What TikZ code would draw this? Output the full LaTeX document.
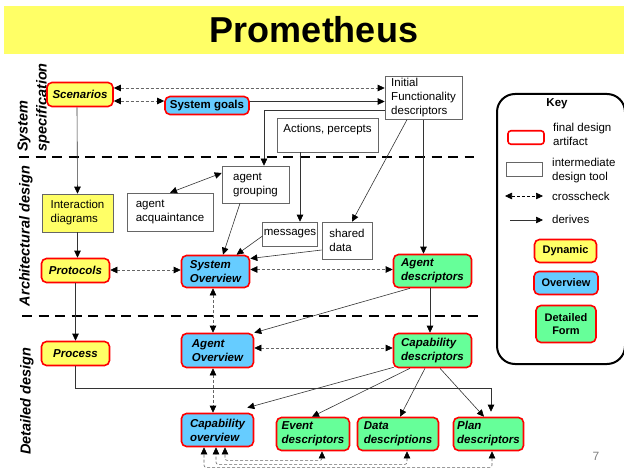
\documentclass[tikz,border=0pt]{standalone}
\usepackage{fontspec}
\setmainfont{Liberation Sans}
\usetikzlibrary{arrows.meta,calc}
\definecolor{dynY}{HTML}{FFFF66}
\definecolor{ovB}{HTML}{66CCFF}
\definecolor{detG}{HTML}{66FF99}
\newcommand\nsz{\fontsize{11.5}{14}\selectfont}

\begin{document}
\begin{tikzpicture}[x=1pt,y=-1pt,
  art/.style={draw=red, line width=1.6pt, rounded corners=5pt, inner sep=2pt,
              align=left, font=\nsz\bfseries\itshape},
  dyn/.style={art, fill=dynY},
  ovw/.style={art, fill=ovB},
  detl/.style={art, fill=detG},
  keyart/.style={art, align=center, font=\fontsize{11}{13}\selectfont\bfseries},
  tool/.style={draw=black!60, line width=0.6pt, fill=white, inner sep=2pt,
               align=left, font=\nsz},
  derive/.style={draw=black!80, line width=0.6pt,
                 -{Triangle[length=7pt,width=6.5pt,color=black]}},
  derivetwo/.style={draw=black!80, line width=0.6pt,
                 {Triangle[length=7pt,width=6.5pt,color=black]}-{Triangle[length=7pt,width=6.5pt,color=black]}},
  xcheck/.style={draw=black!60, line width=0.6pt, dash pattern=on 3pt off 2pt,
                 {Triangle[length=7pt,width=6.5pt,color=black]}-{Triangle[length=7pt,width=6.5pt,color=black]}},
  sect/.style={font=\fontsize{14.5}{16}\selectfont\bfseries\itshape, rotate=90, inner sep=0pt},
  sepline/.style={line width=2.4pt, dash pattern=on 10pt off 6.5pt},
  keytxt/.style={font=\nsz, align=left, anchor=west, inner sep=0pt}]

\useasboundingbox (0,0) rectangle (624,468);

% title band
\node[fill=dynY, minimum width=620, minimum height=48, inner sep=0pt,
      font=\fontsize{36}{40}\selectfont\bfseries] (title) at (314,30) {Prometheus};

% phase labels and separators
\node[sect, anchor=west] (lsys) at (24,152) {System};
\node[sect, anchor=west] (lspec) at (43,152) {specification};
\node[sect] (larch) at (26,236) {Architectural design};
\node[sect] (ldet) at (27,401) {Detailed design};
\draw[sepline] (19,157) -- (474,157);
\draw[sepline] (22,316) -- (480,316);

% system specification
\node[dyn, minimum width=66, minimum height=24] (scen) at (80,94.5) {Scenarios};
\node[ovw, font=\nsz\bfseries, minimum width=84, minimum height=18] (goals) at (207,105.5) {System goals};
\node[tool, minimum width=77, minimum height=42] (ifd) at (423.5,98) {Initial\\Functionality\\descriptors};
\node[tool, minimum width=101, minimum height=34, text depth=14pt, inner ysep=5.5pt] (acts) at (327.5,135) {Actions, percepts};

% architectural design
\node[tool, minimum width=67, minimum height=37] (grp) at (255.5,184.5) {agent\\grouping};
\node[tool, minimum width=86, minimum height=38] (acq) at (170,212) {agent\\acquaintance};
\node[tool, fill=dynY, minimum width=71, minimum height=38] (inter) at (77.5,213) {Interaction\\diagrams};
\node[tool, inner xsep=1pt, minimum width=54, minimum height=24] (msgs) at (290,234) {messages};
\node[tool, minimum width=50, minimum height=37] (shared) at (347,240.5) {shared\\data};
\node[dyn, minimum width=68, minimum height=24] (prot) at (75.5,270.5) {Protocols};
\node[ovw, minimum width=68, minimum height=32] (sysov) at (215.5,271.5) {System\\Overview};
\node[detl, minimum width=78, minimum height=33] (agdesc) at (432.5,271) {Agent\\descriptors};

% detailed design
\node[dyn, minimum width=68, minimum height=24] (proc) at (75.5,353.5) {Process};
\node[ovw, minimum width=72, minimum height=34] (agov) at (217.5,350.5) {Agent\\Overview};
\node[detl, minimum width=78, minimum height=34] (capdesc) at (432.5,350.5) {Capability\\descriptors};
\node[ovw, minimum width=72, minimum height=33] (capov) at (217.5,430) {Capability\\overview};
\node[detl, minimum width=73, minimum height=33] (event) at (313,434) {Event\\descriptors};
\node[detl, minimum width=81, minimum height=33] (data) at (398,434) {Data\\descriptions};
\node[detl, minimum width=70, minimum height=33] (plan) at (488.5,434) {Plan\\descriptors};

% connectors
\draw[xcheck] ($(scen.east)+(0,-6.5)$) -- ($(ifd.west)+(0,-10)$);
\draw[xcheck] ($(scen.east)+(0,6.5)$) -- ($(goals.west)+(0,-4.5)$);
\draw[derive] ($(goals.east)+(0,-4)$) -- ($(ifd.west)+(0,3.5)$);
\draw[derive] ($(ifd.west)+(0,12)$) -| ($(grp.north)+(8.5,0)$);
\draw[derive] ($(ifd.south)+(-16.5,0)$) -- ($(shared.north)+(5,0)$);
\draw[derive] (ifd.south) -- ($(agdesc.north)+(-9,0)$);
\draw[derive] ($(acts.south)+(-27.5,0)$) -- ($(msgs.north)+(10,0)$);
\draw[derivetwo] ($(grp.west)+(0,-11.5)$) -- (acq.north);
\draw[derive] ($(grp.south)+(-15.5,0)$) -- ($(sysov.north)+(7.5,0)$);
\draw[derive] ($(msgs.west)+(0,2)$) -- ($(sysov.north)+(21,0)$);
\draw[derive] ($(shared.west)+(0,9.5)$) -- ($(sysov.east)+(0,-13)$);
\draw[xcheck] ($(prot.east)+(0,-0.5)$) -- ($(sysov.west)+(0,-1.5)$);
\draw[xcheck] ($(sysov.east)+(0,-2)$) -- ($(agdesc.west)+(0,-1.5)$);
\draw[derive] ($(scen.south)+(-3,0)$) -- (inter.north);
\draw[derive] (inter.south) -- ($(prot.north)+(2,0)$);
\draw[derive] (prot.south) -- (proc.north);
\draw[xcheck] ($(sysov.south)+(-2.5,0)$) -- ($(agov.north)+(-4.5,0)$);
\draw[derive] ($(agdesc.south)+(-22.5,0)$) -- (agov.north east);
\draw[derive] ($(agdesc.south)+(-2.5,0)$) -- ($(capdesc.north)+(-2.5,0)$);
\draw[xcheck] ($(agov.east)+(0,-2.5)$) -- ($(capdesc.west)+(0,-2.5)$);
\draw[xcheck] ($(agov.south)+(-4.5,0)$) -- ($(capov.north)+(-4.5,0)$);
\draw[derive] (proc.south) |- ($(plan.north)+(2.5,-28)$) -- ($(plan.north)+(2.5,-5)$);
\draw[derive] ($(capdesc.south west)+(1,-1)$) -- ($(capov.north east)+(-7,-5)$);
\draw[derive] ($(capdesc.south)+(-22.5,0)$) -- ($(event.north)+(-1,0)$);
\draw[derive] ($(capdesc.south)+(-7.5,0)$) -- ($(data.north)+(2,0)$);
\draw[derive] ($(capdesc.south)+(7.5,0)$) -- ($(plan.north)+(-4.5,0)$);
\draw[xcheck, rounded corners=2pt] ($(event.south)+(9,0)$) -- ($(event.south)+(9,9)$) -| ($(capov.south)+(7.5,0)$);
\draw[xcheck, rounded corners=2pt] ($(data.south)+(9,0)$) -- ($(data.south)+(9,13)$) -| ($(capov.south)+(-1.5,0)$);
\draw[xcheck, rounded corners=2pt] ($(plan.south)+(3.5,0)$) -- ($(plan.south)+(3.5,16)$) -| ($(capov.south)+(-13.5,0)$);

% key
\node[draw, line width=2pt, rounded corners=18pt, minimum width=128, minimum height=270] (keybox) at (561,229) {};
\node[font=\nsz\bfseries] (keyttl) at (557,104) {Key};
\node[draw=red, line width=1.6pt, rounded corners=3pt, minimum width=36, minimum height=13.5] (kart) at (526,137.5) {};
\node[keytxt] (kartt) at (553,134) {final design\\artifact};
\node[draw=black!60, line width=0.6pt, minimum width=36, minimum height=14] (ktool) at (524,169) {};
\node[keytxt] (ktoolt) at (552,171) {intermediate\\design tool};
\coordinate (kxa) at (505,196);
\coordinate (kxb) at (543,196);
\draw[xcheck, draw=black] (kxa) -- (kxb);
\node[keytxt] (kxt) at (552,196) {crosscheck};
\coordinate (kda) at (510,220);
\coordinate (kdb) at (543,220);
\draw[derive] (kda) -- (kdb);
\node[keytxt] (kdt) at (552,219) {derives};
\node[keyart, fill=dynY, minimum width=62, minimum height=23] (kdyn) at (565.5,251) {Dynamic};
\node[keyart, fill=ovB, minimum width=64, minimum height=23] (kov) at (566,283) {Overview};
\node[keyart, fill=detG, minimum width=60, minimum height=37] (kdet) at (566,324) {Detailed\\Form};

% slide number
\node[text=black!50, font=\fontsize{12}{14}\selectfont] (pgno) at (596,456) {7};
\end{tikzpicture}
\end{document}
